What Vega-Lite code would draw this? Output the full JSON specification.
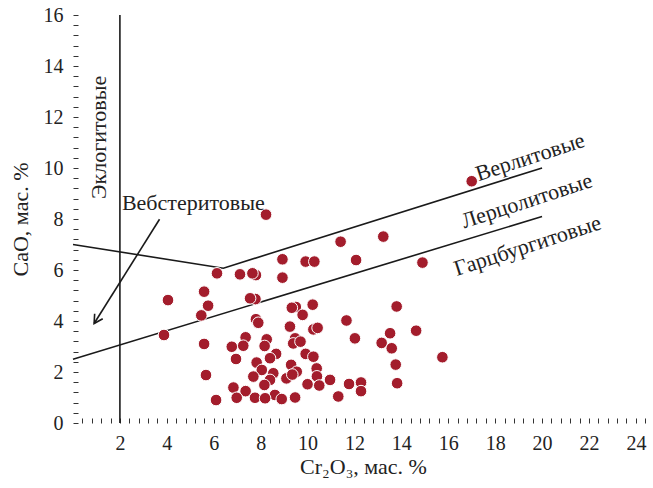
{
  "$schema": "https://vega.github.io/schema/vega-lite/v6.json",
  "width": 580,
  "height": 408,
  "autosize": "none",
  "padding": {"left": 73, "top": 15, "right": 0, "bottom": 65},
  "background": "white",
  "config": {"view": {"stroke": null}, "font": "Liberation Serif"},
  "datasets": {
    "pts": [
      {"x": 17.0, "y": 9.48}, {"x": 8.23, "y": 8.17}, {"x": 11.41, "y": 7.11}, {"x": 13.23, "y": 7.31},
      {"x": 8.93, "y": 6.42}, {"x": 9.92, "y": 6.33}, {"x": 10.29, "y": 6.33}, {"x": 12.07, "y": 6.39},
      {"x": 14.9, "y": 6.29}, {"x": 6.14, "y": 5.87}, {"x": 7.12, "y": 5.83}, {"x": 7.8, "y": 5.8},
      {"x": 7.65, "y": 5.87}, {"x": 8.93, "y": 5.7}, {"x": 5.59, "y": 5.15}, {"x": 4.05, "y": 4.82},
      {"x": 7.78, "y": 4.86}, {"x": 7.55, "y": 4.89}, {"x": 5.76, "y": 4.6}, {"x": 5.47, "y": 4.22},
      {"x": 3.88, "y": 3.45},
      {"x": 9.5, "y": 4.55}, {"x": 9.33, "y": 4.52}, {"x": 10.22, "y": 4.64}, {"x": 9.79, "y": 4.24},
      {"x": 13.8, "y": 4.57}, {"x": 11.66, "y": 4.02}, {"x": 7.8, "y": 4.07}, {"x": 7.9, "y": 3.93},
      {"x": 9.25, "y": 3.78}, {"x": 10.25, "y": 3.67}, {"x": 10.43, "y": 3.73}, {"x": 12.02, "y": 3.32},
      {"x": 13.52, "y": 3.52}, {"x": 14.63, "y": 3.62}, {"x": 13.16, "y": 3.14}, {"x": 13.59, "y": 2.93},
      {"x": 15.75, "y": 2.58}, {"x": 13.76, "y": 2.29}, {"x": 5.59, "y": 3.1}, {"x": 7.36, "y": 3.36},
      {"x": 6.77, "y": 2.99}, {"x": 7.26, "y": 3.03}, {"x": 8.26, "y": 3.28}, {"x": 8.17, "y": 3.02},
      {"x": 9.47, "y": 3.32}, {"x": 9.39, "y": 3.12}, {"x": 9.7, "y": 3.19}, {"x": 8.66, "y": 2.71},
      {"x": 9.92, "y": 2.71}, {"x": 10.25, "y": 2.6}, {"x": 8.4, "y": 2.54}, {"x": 6.95, "y": 2.51},
      {"x": 7.83, "y": 2.37}, {"x": 9.3, "y": 2.28}, {"x": 10.39, "y": 2.14}, {"x": 8.05, "y": 2.08},
      {"x": 9.54, "y": 2.01}, {"x": 8.54, "y": 1.95}, {"x": 5.67, "y": 1.88}, {"x": 7.69, "y": 1.82},
      {"x": 9.1, "y": 1.75}, {"x": 10.4, "y": 1.83}, {"x": 9.35, "y": 1.9}, {"x": 10.0, "y": 1.52},
      {"x": 10.5, "y": 1.47}, {"x": 10.96, "y": 1.69}, {"x": 8.4, "y": 1.69}, {"x": 8.16, "y": 1.49},
      {"x": 6.84, "y": 1.39}, {"x": 7.36, "y": 1.25}, {"x": 8.61, "y": 1.1}, {"x": 11.77, "y": 1.53},
      {"x": 12.28, "y": 1.59}, {"x": 12.28, "y": 1.25}, {"x": 13.82, "y": 1.56}, {"x": 11.31, "y": 1.04},
      {"x": 6.98, "y": 0.99}, {"x": 7.76, "y": 0.99}, {"x": 8.19, "y": 0.97}, {"x": 8.9, "y": 0.94},
      {"x": 9.47, "y": 1.0}, {"x": 6.1, "y": 0.9}
    ],
    "lines": [
      {"g": "eclog", "x": 2, "y": 0}, {"g": "eclog", "x": 2, "y": 16},
      {"g": "upper", "x": 0, "y": 7.0}, {"g": "upper", "x": 6.41, "y": 6.07}, {"g": "upper", "x": 20, "y": 10.0},
      {"g": "lower", "x": 0, "y": 2.5}, {"g": "lower", "x": 20, "y": 8.1},
      {"g": "arrow", "x": 3.69, "y": 7.99}, {"g": "arrow", "x": 0.9, "y": 3.9}
    ],
    "tip": [{"x": 0.9, "y": 3.9}],
    "vlabel": [{"x": 1.1, "y": 11.2, "t": "Эклогитовые"}],
    "hlabel": [{"x": 5.13, "y": 8.64, "t": "Вебстеритовые"}],
    "slabel": [
      {"x": 19.49, "y": 10.43, "t": "Верлитовые"},
      {"x": 19.35, "y": 8.71, "t": "Лерцолитовые"},
      {"x": 19.38, "y": 6.95, "t": "Гарцбургитовые"}
    ]
  },
  "layer": [
    {
      "data": {"name": "lines"},
      "mark": {"type": "line", "color": "#1a1a1a", "strokeWidth": 1.6},
      "encoding": {
        "x": {
          "field": "x", "type": "quantitative",
          "scale": {"domain": [0, 24.73], "nice": false, "zero": false},
          "axis": {
            "values": [0.4,0.8,1.2,1.6,2,2.4,2.8,3.2,3.6,4,4.4,4.8,5.2,5.6,6,6.4,6.8,7.2,7.6,8,8.4,8.8,9.2,9.6,10,10.4,10.8,11.2,11.6,12,12.4,12.8,13.2,13.6,14,14.4,14.8,15.2,15.6,16,16.4,16.8,17.2,17.6,18,18.4,18.8,19.2,19.6,20,20.4,20.8,21.2,21.6,22,22.4,22.8,23.2,23.6,24,24.4],
            "tickCount": 200,
            "labelExpr": "datum.value % 2 == 0 ? '' + datum.value : ''",
            "grid": false,
            "domain": false,
            "offset": -5,
            "tickColor": "#333", "tickWidth": 1, "tickSize": 5,
            "labelFont": "Liberation Serif", "labelFontSize": 20, "labelColor": "#222",
            "labelPadding": 10, "labelOverlap": false, "labelFlush": false, "labelBound": false,
            "title": "Cr₂O₃, мас. %", "titleFont": "Liberation Serif", "titleFontSize": 22,
            "titleFontWeight": "normal", "titleColor": "#222", "titlePadding": 3
          }
        },
        "y": {
          "field": "y", "type": "quantitative",
          "scale": {"domain": [0, 16], "nice": false, "zero": false},
          "axis": {
            "values": [0,0.4,0.8,1.2,1.6,2,2.4,2.8,3.2,3.6,4,4.4,4.8,5.2,5.6,6,6.4,6.8,7.2,7.6,8,8.4,8.8,9.2,9.6,10,10.4,10.8,11.2,11.6,12,12.4,12.8,13.2,13.6,14,14.4,14.8,15.2,15.6,16],
            "tickCount": 200,
            "labelExpr": "datum.value % 2 == 0 ? '' + datum.value : ''",
            "grid": false,
            "domain": false,
            "offset": -5,
            "tickColor": "#333", "tickWidth": 1, "tickSize": 5,
            "labelFont": "Liberation Serif", "labelFontSize": 20, "labelColor": "#222",
            "labelPadding": 10, "labelOverlap": false, "labelFlush": false, "labelBound": false,
            "title": "CaO, мас. %", "titleFont": "Liberation Serif", "titleFontSize": 22,
            "titleFontWeight": "normal", "titleColor": "#222", "titlePadding": 11
          }
        },
        "detail": {"field": "g"}
      }
    },
    {
      "mark": {"type": "rule", "color": "#333", "strokeWidth": 1.5},
      "encoding": {"y": {"datum": 16}}
    },
    {
      "mark": {"type": "rule", "color": "#333", "strokeWidth": 1.5},
      "encoding": {"y": {"datum": 0}}
    },
    {
      "mark": {"type": "rule", "color": "#333", "strokeWidth": 1.5},
      "encoding": {"x": {"datum": 0}}
    },
    {
      "data": {"name": "tip"},
      "mark": {"type": "point", "shape": "M-0.55,1L0,0L0.55,1", "filled": false, "stroke": "#1a1a1a", "strokeWidth": 1.6, "size": 300, "angle": 212, "opacity": 1},
      "encoding": {"x": {"field": "x", "type": "quantitative"}, "y": {"field": "y", "type": "quantitative"}}
    },
    {
      "data": {"name": "pts"},
      "mark": {"type": "circle", "fill": "#a31d2c", "stroke": "white", "strokeWidth": 1, "size": 135, "opacity": 1},
      "encoding": {"x": {"field": "x", "type": "quantitative"}, "y": {"field": "y", "type": "quantitative"}}
    },
    {
      "data": {"name": "vlabel"},
      "mark": {"type": "text", "angle": 270, "font": "Liberation Serif", "fontSize": 22, "color": "#222", "align": "center", "baseline": "middle"},
      "encoding": {"x": {"field": "x", "type": "quantitative"}, "y": {"field": "y", "type": "quantitative"}, "text": {"field": "t"}}
    },
    {
      "data": {"name": "hlabel"},
      "mark": {"type": "text", "font": "Liberation Serif", "fontSize": 22, "color": "#222", "align": "center", "baseline": "middle"},
      "encoding": {"x": {"field": "x", "type": "quantitative"}, "y": {"field": "y", "type": "quantitative"}, "text": {"field": "t"}}
    },
    {
      "data": {"name": "slabel"},
      "mark": {"type": "text", "angle": 342, "font": "Liberation Serif", "fontSize": 22, "color": "#222", "align": "center", "baseline": "middle"},
      "encoding": {"x": {"field": "x", "type": "quantitative"}, "y": {"field": "y", "type": "quantitative"}, "text": {"field": "t"}}
    }
  ]
}
